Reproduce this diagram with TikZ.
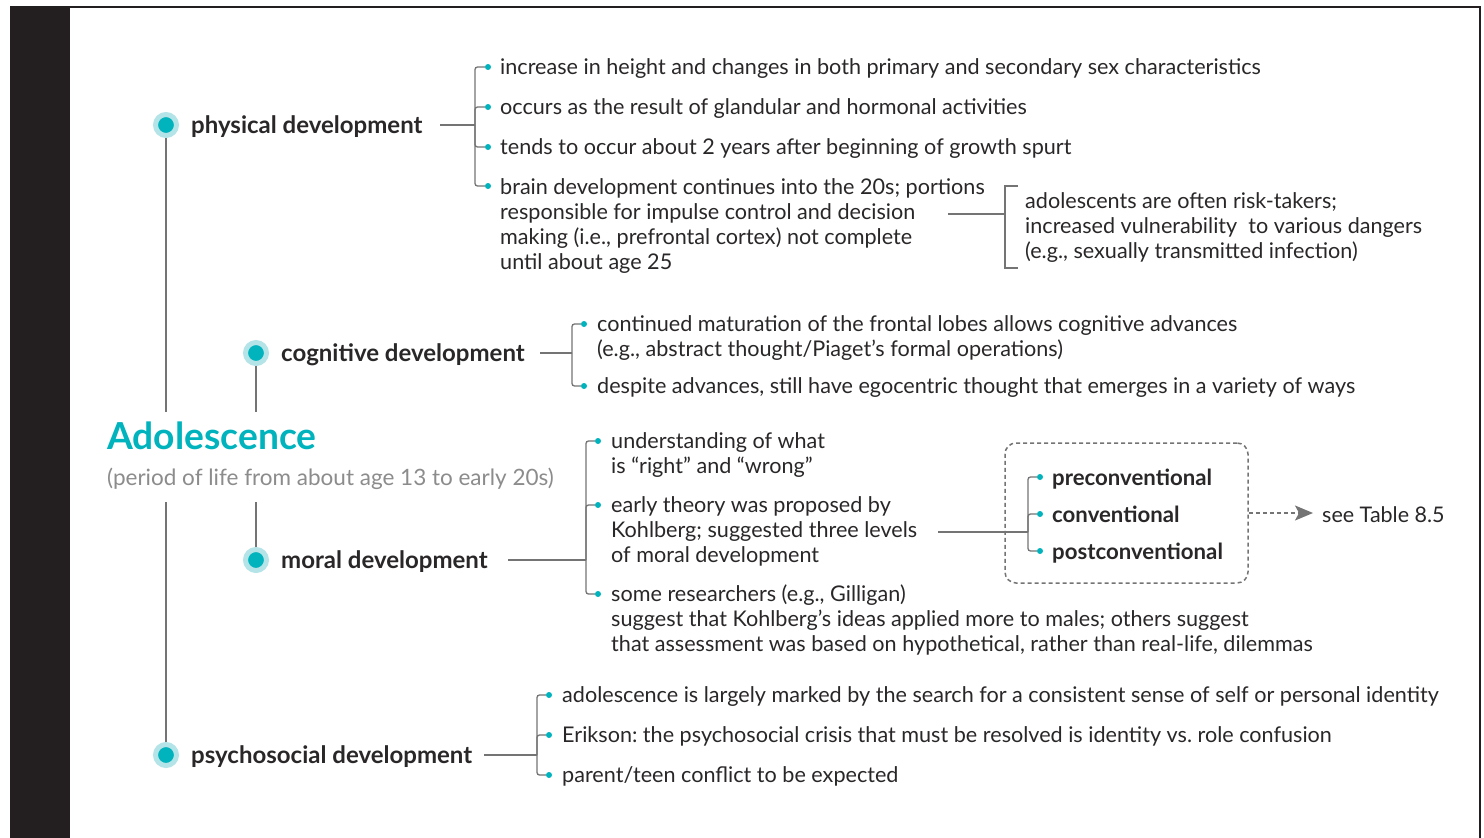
\documentclass[tikz,border=0pt]{standalone}
\usepackage{fontspec}
\setmainfont{Lato}
\usetikzlibrary{arrows.meta}
\frenchspacing
\definecolor{adoteal}{HTML}{00B3BD}
\definecolor{adoring}{HTML}{B4E4E7}
\definecolor{adotext}{HTML}{2A2728}
\definecolor{adoline}{HTML}{747474}
\definecolor{adosub}{HTML}{8C8C8C}
\definecolor{adobar}{HTML}{231F20}
\begin{document}
\begin{tikzpicture}[x=1pt, y=-1pt,
    hub/.style={circle, draw=adoring, fill=adoteal, line width=5pt,
                minimum size=21pt, inner sep=0pt},
    pip/.style={circle, fill=adoteal, minimum size=6pt, inner sep=0pt},
    head/.style={anchor=base west, inner sep=0pt, text=adotext,
                 font=\fontsize{24}{28}\selectfont\bfseries},
    item/.style={anchor=north west, inner sep=0pt, align=left, text=adotext,
                 font=\fontsize{21.6}{25}\selectfont},
    level/.style={anchor=base west, inner sep=0pt, text=adotext,
                  font=\fontsize{22.2}{26}\selectfont\bfseries},
    link/.style={draw=adoline, line width=1.3pt},
    fork/.style={link, rounded corners=2.5pt},
    levelbox/.style={draw=adoline, line width=1.5pt, dash pattern=on 4pt off 3pt,
                     rounded corners=11pt, minimum width=243pt, minimum height=140pt},
]
\useasboundingbox (0,0) rectangle (1484,838);
\fill[white] (0,0) rectangle (1484,838);
\fill[adobar] (10,7) rectangle (70,838);
\draw[adobar, line width=1.3pt] (10,7) -- (1480,7) -- (1480,838);

% centre
\node[anchor=base west, inner sep=0pt, text=adoteal,
      font=\fontsize{37.2}{42}\selectfont\bfseries] (adol) at (107,449) {Adolescence};
\node[anchor=base west, inner sep=0pt, text=adosub,
      font=\fontsize{22.5}{26}\selectfont] (adolsub) at (107,485)
      {(period of life from about age 13 to early 20s)};
\coordinate (adolup) at (107,412);
\coordinate (adoldown) at (107,502);

% physical
\node[hub] (physdot) at (166,125) {};
\node[head] (phys) at (191,133) {physical development};
\coordinate (physout) at (440,125);
\coordinate (physfork) at (475,125);
\node[pip] (p1) at (488,67) {};
\node[pip] (p2) at (488,107) {};
\node[pip] (p3) at (488,147) {};
\node[pip] (p4) at (488,186) {};
\node[item] (p1t) at (500,57) {\strut increase in height and changes in both primary and secondary sex characteristics};
\node[item] (p2t) at (500,97) {\strut occurs as the result of glandular and hormonal activities};
\node[item] (p3t) at (500,137) {\strut tends to occur about 2 years after beginning of growth spurt};
\node[item] (p4t) at (500,176.5) {\strut brain development continues into the 20s; portions\\
    responsible for impulse control and decision\\
    making (i.e., prefrontal cortex) not complete\\
    until about age 25};
\draw[link] (physout) -- (physfork);
\foreach \p in {p1,p2,p3,p4}
    \draw[fork] (physfork) |- (\p);

\coordinate (brainout) at (948,214);
\coordinate (riskfork) at (1005,214);
\coordinate (risktop) at (1005,186);
\coordinate (riskbot) at (1005,268);
\node[item] (risk) at (1025,191) {\strut adolescents are often risk-takers;\\
    increased vulnerability~ to various dangers\\
    (e.g., sexually transmitted infection)};
\draw[link] (brainout) -- (riskfork);
\draw[link] ([xshift=13pt]risktop) -- (risktop) -- (riskbot) -- ([xshift=13pt]riskbot);

% cognitive
\node[hub] (cogdot) at (256,353) {};
\node[head] (cog) at (281,361) {cognitive development};
\coordinate (cogout) at (540,353);
\coordinate (cogfork) at (572,353);
\node[pip] (c1) at (584,324) {};
\node[pip] (c2) at (584,386) {};
\node[item] (c1t) at (597,314) {\strut continued maturation of the frontal lobes allows cognitive advances\\
    (e.g., abstract thought/Piaget’s formal operations)};
\node[item] (c2t) at (597,376) {\strut despite advances, still have egocentric thought that emerges in a variety of ways};
\draw[link] (cogout) -- (cogfork);
\foreach \c in {c1,c2}
    \draw[fork] (cogfork) |- (\c);

% moral
\node[hub] (moraldot) at (256,560) {};
\node[head] (moral) at (281,568) {moral development};
\coordinate (moralout) at (508,560);
\coordinate (moralfork) at (586,560);
\node[pip] (m1) at (598,441) {};
\node[pip] (m2) at (598,505) {};
\node[pip] (m3) at (598,594) {};
\node[item] (m1t) at (611,431) {\strut understanding of what\\is “right” and “wrong”};
\node[item] (m2t) at (611,495) {\strut early theory was proposed by\\
    Kohlberg; suggested three levels\\of moral development};
\node[item] (m3t) at (611,584) {\strut some researchers (e.g., Gilligan)\\
    suggest that Kohlberg’s ideas applied more to males; others suggest\\
    that assessment was based on hypothetical, rather than real-life, dilemmas};
\draw[link] (moralout) -- (moralfork);
\foreach \m in {m1,m2,m3}
    \draw[fork] (moralfork) |- (\m);

\node[levelbox] (levels) at (1126.5,513) {};
\coordinate (kohlout) at (938,532);
\coordinate (levelfork) at (1028,532);
\node[pip] (l1) at (1040,477) {};
\node[pip] (l2) at (1040,514) {};
\node[pip] (l3) at (1040,551) {};
\node[level] (l1t) at (1052,485.5) {preconventional};
\node[level] (l2t) at (1052,522.5) {conventional};
\node[level] (l3t) at (1052,559.5) {postconventional};
\draw[link] (kohlout) -- (levelfork);
\foreach \l in {l1,l2,l3}
    \draw[fork] (levelfork) |- (\l);

\node[anchor=west, inner xsep=9pt, inner ysep=0pt, text=adotext,
      font=\fontsize{21.5}{25}\selectfont] (seetab) at (1313,515) {see Table 8.5};
\draw[draw=adoline, line width=1.5pt, dash pattern=on 4pt off 3pt,
      -{Stealth[length=18pt, width=15pt, inset=4pt, fill=adoline]}]
      (levels.east) -- (seetab.west |- levels.east);

% psychosocial
\node[hub] (psydot) at (166,755) {};
\node[head] (psy) at (191,763) {psychosocial development};
\coordinate (psyout) at (484,755);
\coordinate (psyfork) at (537,755);
\node[pip] (s1) at (549,695) {};
\node[pip] (s2) at (549,735) {};
\node[pip] (s3) at (549,775) {};
\node[item] (s1t) at (562,685) {\strut adolescence is largely marked by the search for a consistent sense of self or personal identity};
\node[item] (s2t) at (562,725) {\strut Erikson: the psychosocial crisis that must be resolved is identity vs. role confusion};
\node[item] (s3t) at (562,765) {\strut parent/teen conflict to be expected};
\draw[link] (psyout) -- (psyfork);
\foreach \s in {s1,s2,s3}
    \draw[fork] (psyfork) |- (\s);

% trunk lines
\draw[link] (physdot) -- (physdot |- adolup);
\draw[link] (cogdot) -- (cogdot |- adolup);
\draw[link] (moraldot) -- (moraldot |- adoldown);
\draw[link] (psydot) -- (psydot |- adoldown);
\end{tikzpicture}
\end{document}
